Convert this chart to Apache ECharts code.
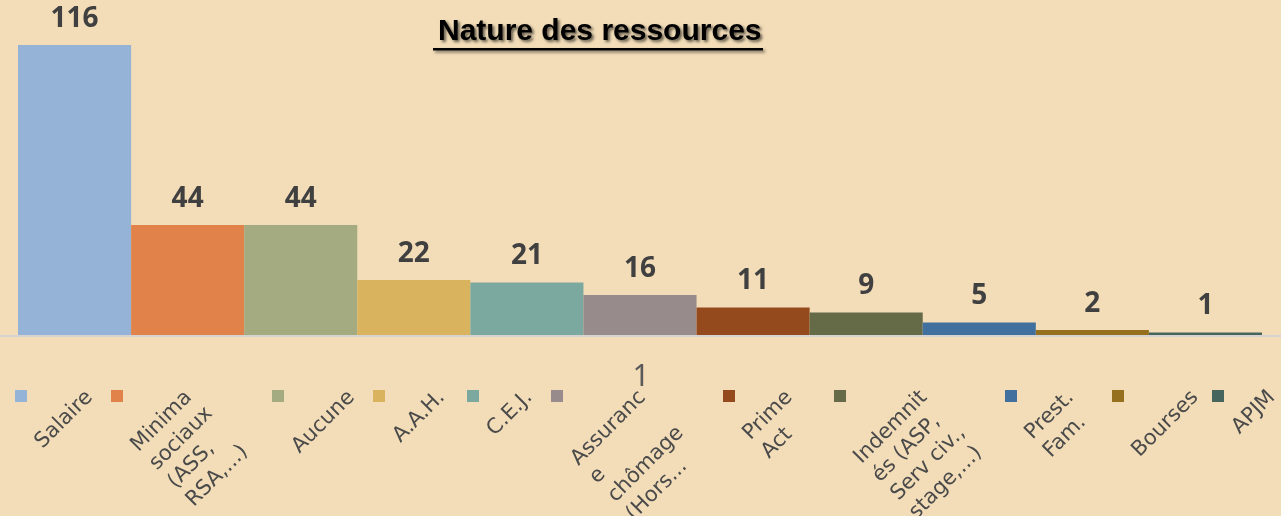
<!DOCTYPE html>
<html>
<head>
<meta charset="utf-8">
<script src="https://cdn.jsdelivr.net/npm/echarts@6/dist/echarts.min.js"></script>
<style>
html, body { margin: 0; padding: 0; background: #F2DDB8; }
#chart { width: 1281px; height: 516px; }
</style>
</head>
<body>
<div id="chart"></div>
<script>
// data
const categories = ['Salaire', 'Minima sociaux (ASS, RSA,...)', 'Aucune', 'A.A.H.', 'C.E.J.',
    'Assurance chômage (Hors...', 'Prime Act', 'Indemnités (ASP, Serv civ., stage,...)',
    'Prest. Fam.', 'Bourses', 'APJM']
const legendLabels = ['Salaire', 'Minima\nsociaux\n(ASS,\nRSA,...)', 'Aucune', 'A.A.H.', 'C.E.J.',
    'Assuranc\ne\nchômage\n(Hors...', 'Prime\nAct', 'Indemnit\nés (ASP,\nServ civ.,\nstage,...)',
    'Prest.\nFam.', 'Bourses', 'APJM']
const values = [116, 44, 44, 22, 21, 16, 11, 9, 5, 2, 1]
const strayLabel = '1'

const colors = ['#95B3D7', '#E0824A', '#A5AB80', '#D9B35E', '#7BA89F', '#978C8B',
    '#954A1E', '#656B47', '#41709F', '#94701F', '#46665D']
// legend square x positions (layout)
const legendX = [15, 111, 272, 373, 467, 551, 723, 834, 1005, 1112, 1212]

const chart = echarts.init(document.getElementById('chart'))

const legendFont = { size: 21, family: '"DejaVu Sans"', lh: 26 }
const ctx = document.createElement('canvas').getContext('2d')
ctx.font = legendFont.size + 'px ' + legendFont.family
const c = Math.SQRT1_2

let legendItems = []
categories.forEach((name, i) => {
    let sq = legendX[i]
    legendItems.push({
        type: 'rect',
        shape: { x: sq, y: 390, width: 12, height: 12 },
        style: { fill: colors[i] }
    })
    let first = legendLabels[i].split('\n')[0]
    let w = ctx.measureText(first).width
    let xs = sq + 28
    let yb = 390 + c * (w + 12)
    let b = 19
    legendItems.push({
        type: 'text',
        x: xs - c * b,
        y: yb - c * b,
        rotation: Math.PI / 4,
        style: {
            text: legendLabels[i],
            fontSize: legendFont.size,
            fontFamily: legendFont.family,
            lineHeight: legendFont.lh,
            fill: '#4A4A4A',
            align: 'left',
            verticalAlign: 'top'
        }
    })
})

let option = {
    backgroundColor: '#F2DDB8',
    animation: false,
    title: {
        text: 'Nature des ressources',
        left: 433,
        top: 12,
        textStyle: {
            fontFamily: '"Liberation Sans", Arial',
            fontWeight: 'bold',
            fontSize: 30,
            color: '#000',
            textShadowColor: 'rgba(0,0,0,0.6)',
            textShadowBlur: 3,
            textShadowOffsetX: 2,
            textShadowOffsetY: 2
        }
    },
    grid: {
        top: 45,
        bottom: 181,
        left: 18,
        right: 19
    },
    xAxis: {
        type: 'category',
        data: categories,
        axisTick: { show: false },
        axisLabel: { show: false },
        axisLine: { show: false }
    },
    yAxis: {
        type: 'value',
        min: 0,
        max: 116,
        show: false,
        splitLine: { show: false }
    },
    series: [{
        type: 'bar',
        barWidth: '100%',
        data: values.map((v, i) => ({ value: v, itemStyle: { color: colors[i] } })),
        label: {
            show: true,
            position: 'top',
            distance: 12,
            fontFamily: '"Noto Sans"',
            fontWeight: 'bold',
            fontSize: 28,
            color: '#404040'
        }
    }],
    graphic: legendItems
}
chart.setOption(option)

// axis line across the whole width, underline of title, stray label
let y0 = chart.convertToPixel({ yAxisIndex: 0 }, 0)
chart.setOption({
    graphic: legendItems.concat([
        {
            type: 'line',
            shape: { x1: 0, y1: y0 + 1, x2: 1281, y2: y0 + 1 },
            style: { stroke: '#D6D3D0', lineWidth: 2 }
        },
        {
            type: 'rect',
            shape: { x: 433, y: 48, width: 330, height: 2.5 },
            style: { fill: '#000', shadowColor: 'rgba(0,0,0,0.5)', shadowBlur: 3, shadowOffsetX: 2, shadowOffsetY: 2 }
        },
        {
            type: 'text',
            x: 641,
            y: 362,
            style: {
                text: strayLabel,
                fontSize: 30,
                fontFamily: '"Noto Sans"',
                fill: '#595959',
                align: 'center',
                verticalAlign: 'top'
            }
        }
    ])
})
</script>
</body>
</html>
